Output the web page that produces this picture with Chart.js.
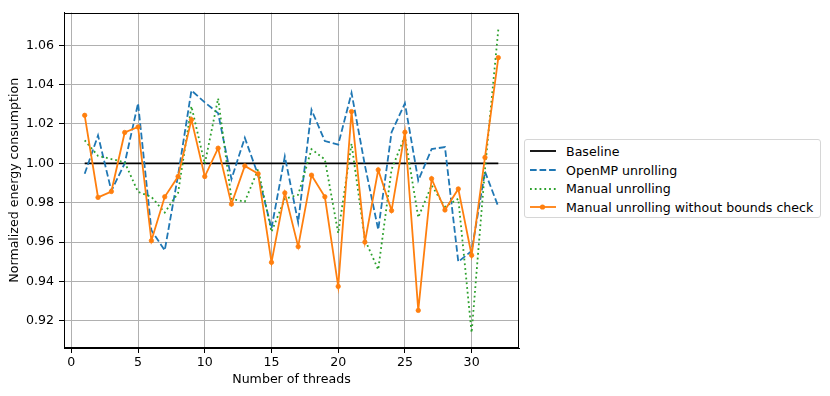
<!DOCTYPE html>
<html><head><meta charset="utf-8">
<script src="https://cdn.jsdelivr.net/npm/chart.js@4.4.1/dist/chart.umd.min.js"></script>
<style>
html,body{margin:0;padding:0;background:#fff;}
#wrap{position:relative;width:830px;height:396px;overflow:hidden;}
#c{position:absolute;left:0;top:0;}
#legend{position:absolute;left:524px;top:139px;width:297px;height:79px;border:1px solid #d6d6d6;border-radius:3px;box-sizing:border-box;background:#fff;font-family:"DejaVu Sans";font-size:12.6px;color:#000;}
.row{position:absolute;left:4px;height:18px;display:flex;align-items:center;white-space:nowrap;}
.row svg{display:block;margin-right:9px;}
</style>
</head><body>
<div id="wrap">
<canvas id="c" width="830" height="396"></canvas>
<div id="legend"></div>
</div>
<script>
const threads = [1,2,3,4,5,6,7,8,9,10,11,12,13,14,15,16,17,18,19,20,21,22,23,24,25,26,27,28,29,30,31,32];
const baseline = [1,1,1,1,1,1,1,1,1,1,1,1,1,1,1,1,1,1,1,1,1,1,1,1,1,1,1,1,1,1,1,1];
const openmp = [0.9947,1.0142,0.986,1.0,1.0305,0.966,0.9558,0.994,1.037,1.031,1.0255,0.992,1.013,0.994,0.967,1.0035,0.970,1.0272,1.0113,1.0095,1.0358,0.999,0.9663,1.0158,1.0305,0.9913,1.0072,1.0083,0.950,0.9555,0.9958,0.978];
const manual = [1.0117,1.0038,1.0022,1.0005,0.9855,0.983,0.975,0.985,1.029,0.9997,1.033,0.982,0.9805,0.997,0.9652,0.982,0.984,1.0072,1.002,0.9645,1.010,0.9613,0.946,0.997,1.0138,0.9725,0.9888,0.978,0.982,0.914,0.997,1.068];
const manualNoBounds = [1.0244,0.9827,0.9857,1.0157,1.0185,0.9607,0.983,0.9933,1.0222,0.9933,1.0077,0.9793,0.9987,0.9947,0.9497,0.985,0.9577,0.994,0.983,0.9375,1.0263,0.96,0.9967,0.976,1.0158,0.9253,0.9922,0.9763,0.987,0.9533,1.003,1.0537];
const seriesLabels = ['Baseline','OpenMP unrolling','Manual unrolling','Manual unrolling without bounds check'];
const xTicks = [0,5,10,15,20,25,30];
const yTicks = [0.92,0.94,0.96,0.98,1.00,1.02,1.04,1.06];

const FONT = 'DejaVu Sans';
const FS = 12.6;
const pts = arr => threads.map((t,i)=>({x:t,y:arr[i]}));

const styles = [
  {color:'#000000', dash:[], point:false},
  {color:'#1f77b4', dash:[6.66,2.88], point:false},
  {color:'#2ca02c', dash:[1.8,2.97], point:false},
  {color:'#ff7f0e', dash:[], point:true}
];
const seriesData = [baseline, openmp, manual, manualNoBounds];

const datasets = seriesData.map((arr,i)=>({
  label: seriesLabels[i],
  data: pts(arr),
  borderColor: styles[i].color,
  backgroundColor: styles[i].color,
  borderWidth: 1.8,
  borderDash: styles[i].dash,
  pointRadius: styles[i].point ? 2.2 : 0,
  pointBorderWidth: styles[i].point ? 0.8 : 0,
  pointBackgroundColor: styles[i].color,
  pointBorderColor: styles[i].color,
  tension: 0,
  fill: false,
  order: 4 - i
}));

const framePlugin = {
  id:'frame',
  afterDatasetsDraw(chart){
    const a = chart.chartArea, c = chart.ctx;
    c.save();
    c.strokeStyle = '#000';
    c.lineWidth = 1;
    c.strokeRect(Math.round(a.left)+0.5, Math.round(a.top)+0.5, Math.round(a.right-a.left)-1, Math.round(a.bottom-a.top)-1);
    c.restore();
  }
};

new Chart(document.getElementById('c'), {
  type:'line',
  data:{datasets},
  options:{
    responsive:false,
    animation:false,
    devicePixelRatio:1,
    layout:{padding:{left:0,right:311,top:9,bottom:0}},
    plugins:{legend:{display:false},tooltip:{enabled:false}},
    scales:{
      x:{
        type:'linear', min:-0.55, max:33.55,
        afterBuildTicks: s => { s.ticks = xTicks.map(v=>({value:v})); },
        afterFit: s => { s.height = 48; },
        grid:{color:'#b0b0b0', lineWidth:1, tickColor:'#000', tickLength:5, drawTicks:true},
        border:{color:'#000', width:1},
        ticks:{color:'#000', font:{family:FONT,size:FS}, padding:2, maxRotation:0, autoSkip:false, callback:v=>String(v)},
        title:{display:true, text:'Number of threads', color:'#000', font:{family:FONT,size:FS}, padding:{top:0,bottom:8.5}}
      },
      y:{
        type:'linear', min:0.9062, max:1.0766,
        afterBuildTicks: s => { s.ticks = yTicks.map(v=>({value:v})); },
        afterFit: s => { s.width = 64; },
        grid:{color:'#b0b0b0', lineWidth:1, tickColor:'#000', tickLength:5, drawTicks:true},
        border:{color:'#000', width:1},
        ticks:{color:'#000', font:{family:FONT,size:FS}, padding:5, autoSkip:false, callback:v=>Number(v).toFixed(2)},
        title:{display:true, text:'Normalized energy consumption', color:'#000', font:{family:FONT,size:FS}, padding:{top:7.5,bottom:0}}
      }
    }
  },
  plugins:[framePlugin]
});

// HTML legend
const legend = document.getElementById('legend');
const rowCenters = [11, 30, 48.5, 67];
seriesLabels.forEach((lab,i)=>{
  const row = document.createElement('div');
  row.className = 'row';
  row.style.top = (rowCenters[i]-9) + 'px';
  const st = styles[i];
  const dash = st.dash.length ? ` stroke-dasharray="${st.dash.join(' ')}"` : '';
  const dot = st.point ? `<circle cx="13.5" cy="9" r="2.6" fill="${st.color}"/>` : '';
  row.innerHTML = `<svg width="28" height="18"><line x1="1" y1="9" x2="27" y2="9" stroke="${st.color}" stroke-width="1.8"${dash}/>${dot}</svg><span>${lab}</span>`;
  legend.appendChild(row);
});
</script>
</body></html>
